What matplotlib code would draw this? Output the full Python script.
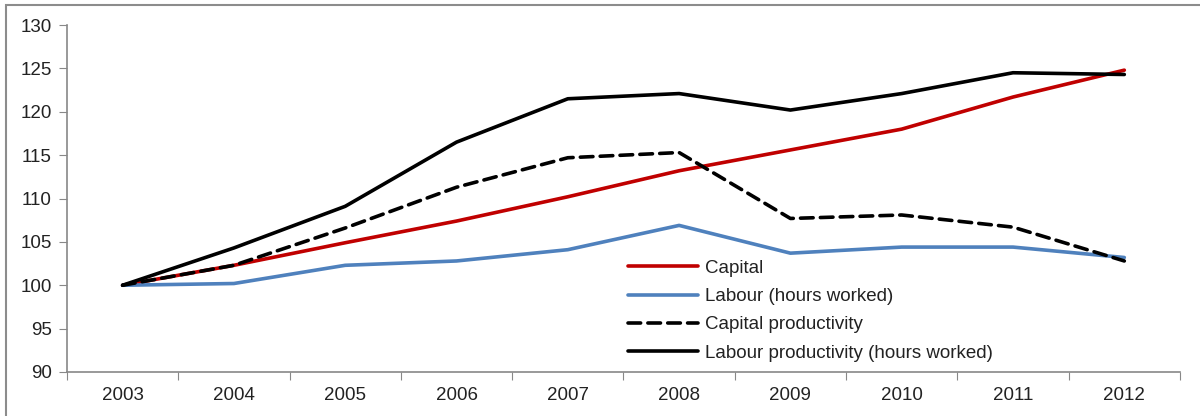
import numpy as np
import matplotlib.pyplot as plt
from matplotlib.patches import Rectangle

plt.rcParams['font.family'] = ['Liberation Sans', 'DejaVu Sans']

# -------------------------------------------------
# Data (index, 2003 = 100)
# -------------------------------------------------
years = ["2003", "2004", "2005", "2006", "2007", "2008", "2009", "2010", "2011", "2012"]
capital = [100.0, 102.3, 104.9, 107.4, 110.2, 113.2, 115.6, 118.0, 121.7, 124.8]
labour = [100.0, 100.2, 102.3, 102.8, 104.1, 106.9, 103.7, 104.4, 104.4, 103.2]
capital_prod = [100.0, 102.3, 106.6, 111.3, 114.7, 115.3, 107.7, 108.1, 106.7, 102.8]
labour_prod = [100.0, 104.3, 109.1, 116.5, 121.5, 122.1, 120.2, 122.1, 124.5, 124.3]

text_col = "#222222"
axis_col = "#888888"
fs = 13.5

fig = plt.figure(figsize=(12, 4.16), dpi=100)
ax = fig.add_axes([0.0558, 0.1058, 0.9275, 0.834])

# outer chart frame
fig.patches.append(Rectangle((0.005, -0.01), 1.02, 0.998, transform=fig.transFigure,
                             fill=False, edgecolor="#8c8c8c", linewidth=1.5))

x = np.arange(len(years))
ax.plot(x, capital, color="#C00000", lw=2.6, label="Capital", solid_capstyle="round")
ax.plot(x, labour, color="#4F81BD", lw=2.6, label="Labour (hours worked)", solid_capstyle="round")
ax.plot(x, capital_prod, color="black", lw=2.6, dashes=(3.5, 2), dash_capstyle="round",
        label="Capital productivity")
ax.plot(x, labour_prod, color="black", lw=2.6, label="Labour productivity (hours worked)",
        solid_capstyle="round")

ax.set_xlim(-0.5, len(years) - 0.5)
ax.set_ylim(90, 130)
ax.set_yticks(np.arange(90, 131, 5))

# ticks between categories, labels centred on categories
ax.set_xticks(np.arange(-0.5, len(years), 1.0))
ax.set_xticklabels([])
ax.set_xticks(x, minor=True)
ax.set_xticklabels(years, minor=True)
ax.tick_params(axis="x", which="major", length=6, color=axis_col, direction="out")
ax.tick_params(axis="x", which="minor", length=0, pad=11, labelsize=fs, labelcolor=text_col)
ax.tick_params(axis="y", length=6, color=axis_col, direction="out", pad=5,
               labelsize=fs, labelcolor=text_col)

for side in ["top", "right"]:
    ax.spines[side].set_visible(False)
for side in ["left", "bottom"]:
    ax.spines[side].set_color(axis_col)
    ax.spines[side].set_linewidth(1.2)

leg = ax.legend(loc="upper left", bbox_to_anchor=(0.504, 0.324), frameon=False,
                fontsize=fs, handlelength=3.73, handletextpad=0.37, labelspacing=0.6,
                borderaxespad=0, borderpad=0)
for t in leg.get_texts():
    t.set_color(text_col)

fig.savefig("out.png", dpi=100)
